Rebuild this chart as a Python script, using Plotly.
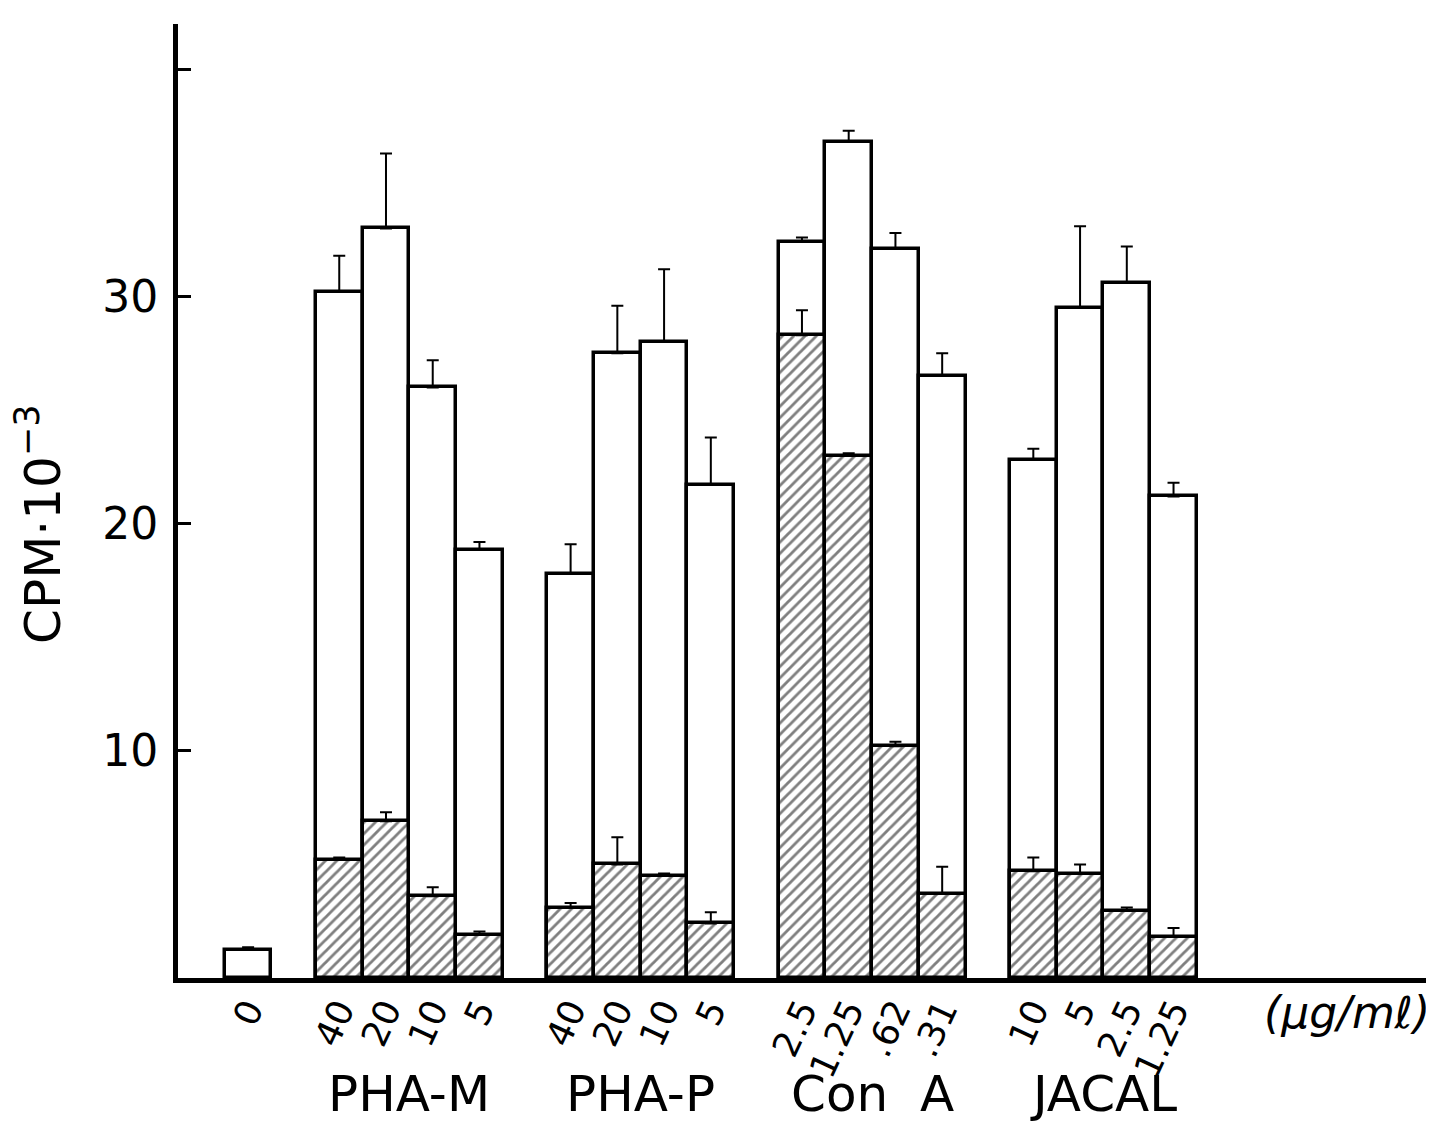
import plotly.graph_objects as go

# ---- data ----
groups = ["PHA-M", "PHA-P", "Con\u00a0\u00a0A", "JACAL"]
dose_labels = [
    ["40", "20", "10", "5"],
    ["40", "20", "10", "5"],
    ["2.5", "1.25", ".62", ".31"],
    ["10", "5", "2.5", "1.25"],
]
control_label = "0"
control_total = 1.25
control_err = 0.1

total_means = [
    [30.2, 33.0, 26.0, 18.85],
    [17.8, 27.5, 28.0, 21.7],
    [32.4, 36.8, 32.1, 26.5],
    [22.8, 29.5, 30.6, 21.2],
]
total_errs = [
    [1.6, 3.3, 1.2, 0.35],
    [1.3, 2.1, 3.2, 2.1],
    [0.2, 0.5, 0.7, 1.0],
    [0.5, 3.6, 1.6, 0.6],
]
hatched_means = [
    [5.2, 6.9, 3.6, 1.9],
    [3.1, 5.0, 4.5, 2.4],
    [28.3, 23.0, 10.2, 3.7],
    [4.7, 4.6, 2.95, 1.8],
]
hatched_errs = [
    [0.1, 0.4, 0.4, 0.15],
    [0.2, 1.2, 0.1, 0.5],
    [1.1, 0.1, 0.2, 1.2],
    [0.6, 0.4, 0.15, 0.4],
]
y_tick_vals = [10, 20, 30]
y_tick_text = ["10", "20", "30"]
y_unlabeled_ticks = [40]

# ---- layout helpers ----
FONT = "DejaVu Sans"
group_start = 1.95
group_step = 4.95

x_tot, y_tot, e_tot, ticks_x, ticks_t = [0.0], [control_total], [control_err], [0.0], [control_label]
x_h, y_h, e_h = [], [], []
for g in range(len(groups)):
    for i in range(4):
        xv = group_start + group_step * g + i
        x_tot.append(xv)
        y_tot.append(total_means[g][i])
        e_tot.append(total_errs[g][i])
        x_h.append(xv)
        y_h.append(hatched_means[g][i])
        e_h.append(hatched_errs[g][i])
        ticks_x.append(xv)
        ticks_t.append(dose_labels[g][i])

fig = go.Figure()
fig.add_trace(go.Bar(
    x=x_tot, y=y_tot, width=1.0,
    marker=dict(color="white", line=dict(color="black", width=3.5)),
    error_y=dict(type="data", symmetric=False, array=e_tot,
                 arrayminus=[0] * len(e_tot), color="black",
                 thickness=2, width=6),
    showlegend=False,
))
fig.add_trace(go.Bar(
    x=x_h, y=y_h, width=1.0,
    marker=dict(color="white", line=dict(color="black", width=3.5),
                pattern=dict(shape="/", fgcolor="black", bgcolor="white",
                             size=8, solidity=0.35)),
    error_y=dict(type="data", symmetric=False, array=e_h,
                 arrayminus=[0] * len(e_h), color="black",
                 thickness=2, width=6),
    showlegend=False,
))

annotations = []
for g, name in enumerate(groups):
    annotations.append(dict(
        x=group_start + group_step * g + 1.5, xref="x",
        y=-0.122, yref="paper", text=name, showarrow=False,
        font=dict(family=FONT, size=50, color="black"),
        xanchor="center", yanchor="middle",
    ))
annotations.append(dict(
    x=1.0, xref="paper", y=-0.036, yref="paper",
    text="<i>(μg/mℓ)</i>", showarrow=False,
    font=dict(family=FONT, size=44, color="black"),
    xanchor="right", yanchor="middle",
))
annotations.append(dict(
    x=-0.11, xref="paper", y=0.475, yref="paper",
    text="CPM·10<sup>−3</sup>", textangle=-90, showarrow=False,
    font=dict(family=FONT, size=50, color="black"),
    xanchor="center", yanchor="middle",
))

fig.update_layout(
    width=1426, height=1118,
    margin=dict(l=170, r=2, t=16, b=148),
    paper_bgcolor="white", plot_bgcolor="white",
    barmode="overlay", bargap=0,
    annotations=annotations,
    font=dict(family=FONT, color="black"),
)
fig.update_xaxes(
    range=[-1.5, 25.33], showgrid=False, zeroline=False,
    showline=True, linecolor="black", linewidth=5,
    tickmode="array", tickvals=ticks_x, ticktext=ticks_t,
    tickangle=-65, ticks="", tickfont=dict(family=FONT, size=36),
    ticklabelstandoff=-8,
)
fig.update_yaxes(
    range=[0, 42], showgrid=False, zeroline=False,
    showline=True, linecolor="black", linewidth=5,
    tickmode="array", tickvals=y_tick_vals, ticktext=y_tick_text,
    ticks="inside", ticklen=13, tickwidth=3, tickcolor="black",
    tickfont=dict(family=FONT, size=44), ticklabelstandoff=6,
    minor=dict(tickmode="array", tickvals=y_unlabeled_ticks, ticks="inside",
               ticklen=13, tickwidth=3, tickcolor="black", showgrid=False),
)

fig.write_html("out.html")
